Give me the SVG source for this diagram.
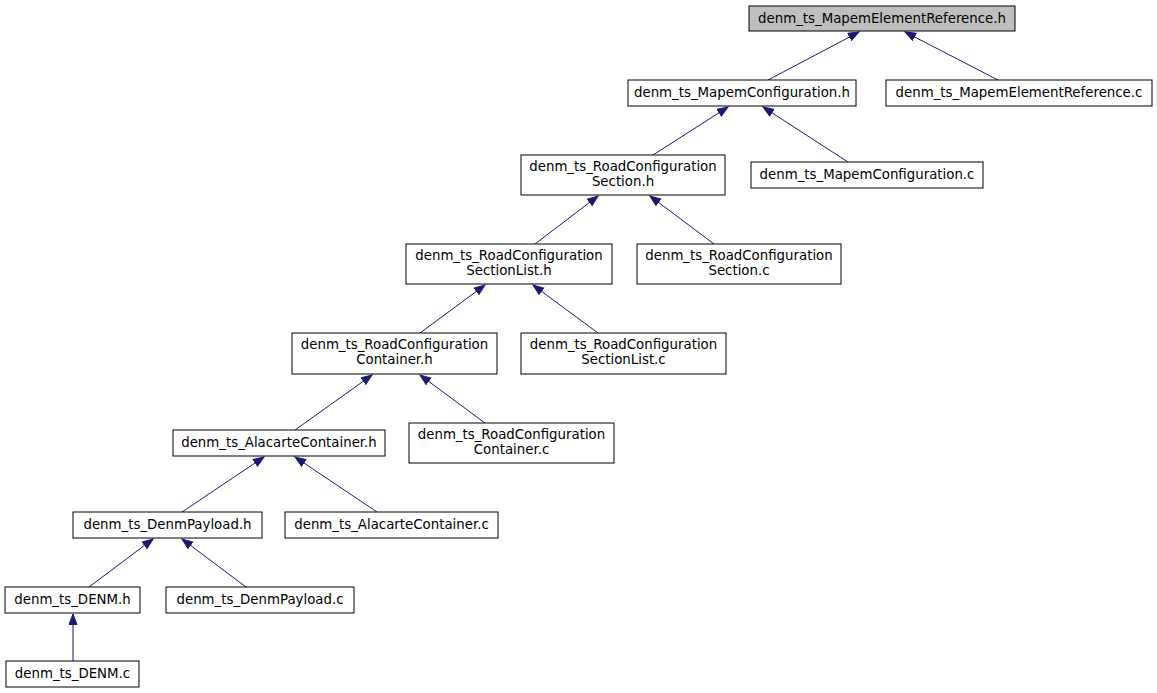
<svg xmlns="http://www.w3.org/2000/svg" width="1157" height="693" viewBox="0 0 1157 693">
<style>
.n rect{fill:#fff;stroke:#000;stroke-width:1}
.n text{font-family:"DejaVu Sans",sans-serif;font-size:13.33px;text-anchor:middle;fill:#000}
.e line{stroke:#191970;stroke-width:1;marker-end:url(#ah)}
</style>
<defs>
<marker id="ah" markerUnits="userSpaceOnUse" markerWidth="13" markerHeight="11" refX="11" refY="4.5" orient="auto">
<path d="M0.5,0.5 L11,4.5 L0.5,8.5 z" fill="#191970" stroke="#191970"/>
</marker>
</defs>
<rect width="1157" height="693" fill="#fff"/>
<g id="edges" class="e">
<line x1="768" y1="80" x2="859" y2="32"/>
<line x1="998" y1="80" x2="905" y2="32"/>
<line x1="653" y1="155" x2="728" y2="107"/>
<line x1="848" y1="162" x2="763" y2="107"/>
<line x1="535" y1="244" x2="598" y2="196"/>
<line x1="714" y1="244" x2="650" y2="196"/>
<line x1="420" y1="333" x2="485" y2="285"/>
<line x1="598" y1="333" x2="533" y2="285"/>
<line x1="295" y1="430" x2="372" y2="375"/>
<line x1="485" y1="423" x2="420" y2="375"/>
<line x1="182" y1="512" x2="264" y2="457"/>
<line x1="377" y1="512" x2="295" y2="457"/>
<line x1="89" y1="587" x2="153" y2="539"/>
<line x1="246" y1="587" x2="182" y2="539"/>
<line x1="73" y1="661" x2="73" y2="614"/>
</g>
<g id="n1" class="n"><rect x="749" y="6" width="266" height="25" style="fill:#bfbfbf"/><text x="882" y="23">denm_ts_MapemElementReference.h</text></g>
<g id="n2" class="n"><rect x="628" y="80" width="228" height="26"/><text x="742" y="97">denm_ts_MapemConfiguration.h</text></g>
<g id="n3" class="n"><rect x="886" y="80" width="266" height="26"/><text x="1019" y="97">denm_ts_MapemElementReference.c</text></g>
<g id="n4" class="n"><rect x="521" y="155" width="204" height="40"/><text x="623" y="171">denm_ts_RoadConfiguration</text><text x="623" y="186">Section.h</text></g>
<g id="n5" class="n"><rect x="751" y="162" width="232" height="26"/><text x="867" y="179">denm_ts_MapemConfiguration.c</text></g>
<g id="n6" class="n"><rect x="406" y="244" width="206" height="40"/><text x="509" y="260">denm_ts_RoadConfiguration</text><text x="509" y="275">SectionList.h</text></g>
<g id="n7" class="n"><rect x="637" y="244" width="204" height="40"/><text x="739" y="260">denm_ts_RoadConfiguration</text><text x="739" y="275">Section.c</text></g>
<g id="n8" class="n"><rect x="292" y="333" width="205" height="41"/><text x="394.5" y="349">denm_ts_RoadConfiguration</text><text x="394.5" y="364">Container.h</text></g>
<g id="n9" class="n"><rect x="521" y="333" width="205" height="41"/><text x="623.5" y="349">denm_ts_RoadConfiguration</text><text x="623.5" y="364">SectionList.c</text></g>
<g id="n10" class="n"><rect x="173" y="430" width="212" height="26"/><text x="279" y="447">denm_ts_AlacarteContainer.h</text></g>
<g id="n11" class="n"><rect x="409" y="423" width="205" height="40"/><text x="511.5" y="439">denm_ts_RoadConfiguration</text><text x="511.5" y="454">Container.c</text></g>
<g id="n12" class="n"><rect x="73" y="512" width="189" height="26"/><text x="167.5" y="529">denm_ts_DenmPayload.h</text></g>
<g id="n13" class="n"><rect x="285" y="512" width="213" height="26"/><text x="391.5" y="529">denm_ts_AlacarteContainer.c</text></g>
<g id="n14" class="n"><rect x="5" y="587" width="135" height="26"/><text x="72.5" y="604">denm_ts_DENM.h</text></g>
<g id="n15" class="n"><rect x="166" y="587" width="188" height="26"/><text x="260" y="604">denm_ts_DenmPayload.c</text></g>
<g id="n16" class="n"><rect x="6" y="661" width="133" height="26"/><text x="72.5" y="678">denm_ts_DENM.c</text></g>
</svg>
